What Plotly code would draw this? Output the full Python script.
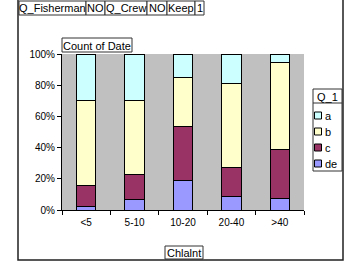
import plotly.graph_objects as go

categories = ["<5", "5-10", "10-20", "20-40", ">40"]
series_names = ["de", "c", "b", "a"]
de_vals = [2, 7, 19, 8.5, 7.3]
c_vals = [14, 16, 34.5, 19, 31.4]
b_vals = [54, 47, 31.5, 53.5, 56]
a_vals = [30, 30, 15, 19, 5.3]
colors = {"a": "#CCFFFF", "b": "#FFFFCC", "c": "#993366", "de": "#9999FF"}
y_ticks = [0, 20, 40, 60, 80, 100]
y_ticklabels = ["0%", "20%", "40%", "60%", "80%", "100%"]

W, H = 347, 267
L, R, T, B = 62, 304, 54, 210

def px(x):
    return (x - L) / (R - L)

def py(y):
    return (B - y) / (B - T)

FONT = "Liberation Sans, Arial, sans-serif"

fig = go.Figure()
for name, vals in zip(series_names, [de_vals, c_vals, b_vals, a_vals]):
    fig.add_trace(go.Bar(x=categories, y=vals, name=name,
                         marker=dict(color=colors[name], line=dict(color="black", width=1)),
                         showlegend=False))

shapes = []
annotations = []

def box(x0, y0, x1, y1, fill="white", line="#333333", lw=1):
    shapes.append(dict(type="rect", xref="paper", yref="paper",
                       x0=px(x0), x1=px(x1), y0=py(y1), y1=py(y0),
                       fillcolor=fill, line=dict(color=line, width=lw), layer="above"))

def text(x, y, s, size=11, anchor="left"):
    annotations.append(dict(xref="paper", yref="paper", x=px(x), y=py(y), text=s,
                            showarrow=False, xanchor=anchor, yanchor="middle",
                            font=dict(family=FONT, size=size, color="black")))

# outer frame
shapes.append(dict(type="rect", xref="paper", yref="paper",
                   x0=px(18), x1=px(343), y0=py(260), y1=py(-2),
                   line=dict(color="#202020", width=1.5), layer="below"))

# field buttons
fields = [("Q_Fisherman", 19, 86), ("NO", 86, 105), ("Q_Crew", 105, 147),
          ("NO", 147, 167), ("Keep", 167, 195), ("1", 195, 204)]
for s, x0, x1 in fields:
    box(x0, 1, x1, 15)
    text((x0 + x1) / 2, 8.5, s, size=11, anchor="center")

# Count of Date
box(62, 38, 132, 52)
text(97, 45.5, "Count of Date", size=11, anchor="center")

# Chlalnt
box(165, 246, 203, 259)
text(184, 253, "Chlalnt", size=11, anchor="center")

# legend
box(313, 89, 342, 171)
text(315, 96.5, "Q_1", size=11)
shapes.append(dict(type="line", xref="paper", yref="paper",
                   x0=px(313), x1=px(342), y0=py(103), y1=py(103),
                   line=dict(color="#333333", width=1)))
for name, yc in [("a", 115.5), ("b", 131.5), ("c", 147.5), ("de", 163.5)]:
    box(314.5, yc - 3.5, 321.5, yc + 3.5, fill=colors[name], line="black")
    text(323, yc, name, size=11)

fig.update_layout(
    width=W, height=H,
    margin=dict(l=L, r=W - R, t=T, b=H - B, pad=0),
    paper_bgcolor="white", plot_bgcolor="#C0C0C0",
    barmode="stack", bargap=0.6,
    showlegend=False,
    font=dict(family=FONT, size=10, color="black"),
    shapes=shapes, annotations=annotations,
)
fig.update_xaxes(showline=True, linecolor="black", linewidth=1, ticks="outside",
                 tickson="boundaries", ticklen=4, tickcolor="black", showgrid=False,
                 tickfont=dict(size=10), ticklabelstandoff=3)
fig.update_yaxes(range=[0, 100], tickvals=y_ticks, ticktext=y_ticklabels,
                 showline=True, linecolor="black", linewidth=1, ticks="outside",
                 ticklen=4, tickcolor="black", showgrid=False, zeroline=False,
                 tickfont=dict(size=10))

fig.write_html("out.html", config={"displayModeBar": False},
               post_script="document.body.style.margin='0';document.body.style.overflow='hidden';")
